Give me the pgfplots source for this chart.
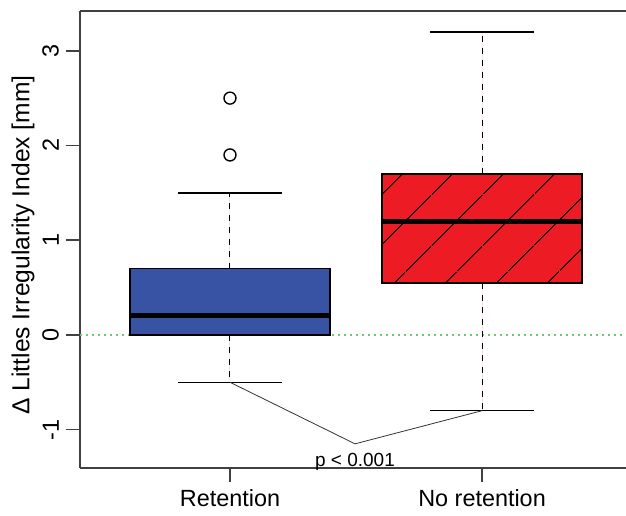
\documentclass[border=0pt]{standalone}
\usepackage{pgfplots}
\pgfplotsset{compat=1.18}
\usepgfplotslibrary{statistics}
\usetikzlibrary{patterns.meta}
\usepackage{fontspec}
\setmainfont{Liberation Sans}
\definecolor{rblue}{RGB}{57,83,164}
\definecolor{rred}{RGB}{237,28,36}
\definecolor{rgreen}{RGB}{110,200,110}
\begin{document}
\begin{tikzpicture}
\begin{axis}[
  at={(0,0)}, anchor=south west,
  scale only axis, width=273pt, height=228.5pt,
  xmin=0.405, xmax=2.571, ymin=-1.405, ymax=3.42,
  axis x line*=bottom, axis y line*=left,
  axis line style={line width=0.8pt, draw=black!75},
  tick style={line width=0.8pt, draw=black!75},
  tick align=outside, major tick length=7pt,
  xtick={1,2}, xticklabels={Retention, No retention},
  ytick={-1,0,1,2,3}, yticklabels={-1,0,1,2,3},
  tick label style={font=\fontsize{11.7}{13}\selectfont},
  yticklabel style={rotate=90, anchor=south},
  clip=false,
  boxplot/draw direction=y,
  boxplot/draw/lower whisker/.code={
    \draw[dashed, line width=0.5pt] (boxplot box cs:\pgfplotsboxplotvalue{lower quartile},0.5) -- (boxplot box cs:\pgfplotsboxplotvalue{lower whisker},0.5);
    \draw[line width=0.75pt] (boxplot whisker cs:\pgfplotsboxplotvalue{lower whisker},0) -- (boxplot whisker cs:\pgfplotsboxplotvalue{lower whisker},1);
  },
  boxplot/draw/upper whisker/.code={
    \draw[dashed, line width=0.5pt] (boxplot box cs:\pgfplotsboxplotvalue{upper quartile},0.5) -- (boxplot box cs:\pgfplotsboxplotvalue{upper whisker},0.5);
    \draw[line width=0.75pt] (boxplot whisker cs:\pgfplotsboxplotvalue{upper whisker},0) -- (boxplot whisker cs:\pgfplotsboxplotvalue{upper whisker},1);
  },
  boxplot/box extend=0.794,
  boxplot/whisker extend=0.41,
  boxplot/every median/.style={line width=2.5pt, draw=black},
]
\coordinate (sw) at (rel axis cs:0,0);
\coordinate (ne) at (rel axis cs:1,1);
\draw[line width=0.8pt, draw=black!75] (rel axis cs:0,1) -- (rel axis cs:1,1);
\addplot[rgreen, dotted, line width=1pt] coordinates {(0.405,0) (2.571,0)};
\addplot[boxplot prepared={draw position=1, lower whisker=-0.5, lower quartile=0, median=0.2, upper quartile=0.7, upper whisker=1.5},
  draw=black, line width=0.7pt, fill=rblue, mark=o, mark size=3pt, mark options={line width=0.7pt, fill=none}]
  table[row sep=\\, y index=0] {1.9\\ 2.5\\};
\addplot[boxplot prepared={draw position=2, lower whisker=-0.8, lower quartile=0.55, median=1.2, upper quartile=1.7, upper whisker=3.2},
  draw=black, line width=0.7pt, fill=rred,
  boxplot/every box/.style={fill=rred, postaction={pattern={Lines[angle=45, distance=18.4pt, line width=0.6pt]}, pattern color=black}}]
  coordinates {};
\addplot[black!80, line width=0.4pt] coordinates {(1,-0.5) (1.496,-1.15) (2,-0.8)};
\node[font=\fontsize{9.5}{11}\selectfont, anchor=north] at (axis cs:1.496,-1.17) {p < 0.001};
\node[rotate=90, font=\fontsize{12.3}{14}\selectfont] at ([xshift=-28.5pt]rel axis cs:0,0.488) {Δ Littles Irregularity Index [mm]};
\end{axis}
\pgfresetboundingbox
\path ([shift={(-40pt,-24pt)}]sw) rectangle ([shift={(0pt,5.5pt)}]ne);
\end{tikzpicture}
\end{document}
